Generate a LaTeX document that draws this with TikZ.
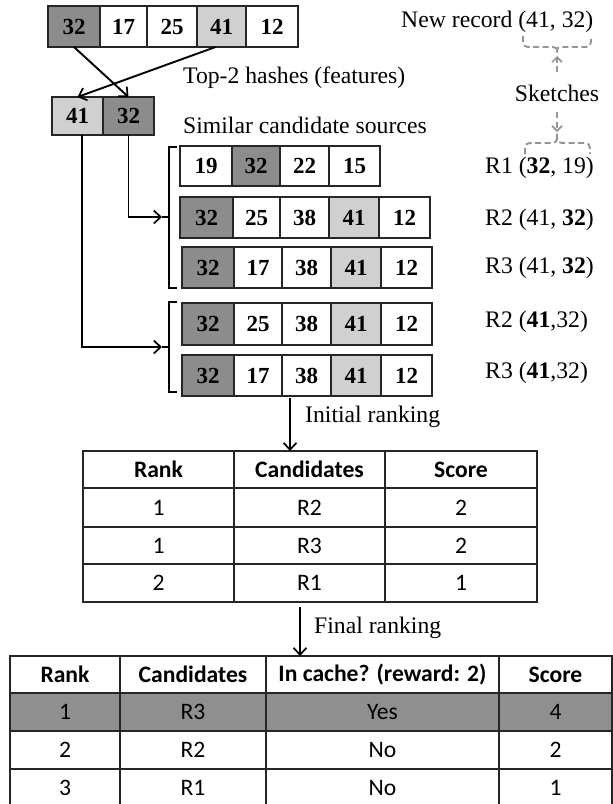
\documentclass[tikz,border=0pt]{standalone}
\usepackage{fontspec}
\setmainfont{Liberation Serif}
\newfontfamily\calib{Carlito}
\usetikzlibrary{arrows.meta}
\definecolor{dk}{HTML}{8C8C8C}
\definecolor{lt}{HTML}{D0D0D0}
\definecolor{hl}{HTML}{8F8F8F}
\definecolor{dg}{HTML}{959595}
\newcommand\bx[7]{\node[#6,minimum width={#3-#2},minimum height={#5-#4}] (#1) at ({(#2+#3)/2},{(#4+#5)/2}) {#7};}
\tikzset{
  cell/.style={draw=black!85,line width=1.3pt,inner sep=0pt,outer sep=0pt,font=\fontsize{23}{25}\selectfont\bfseries},
  dcell/.style={cell,fill=dk},
  lcell/.style={cell,fill=lt},
  wcell/.style={cell,fill=white},
  tcell/.style={draw=black!85,line width=1.1pt,inner sep=0pt,outer sep=0pt,font=\calib\fontsize{23.6}{26}\selectfont},
  thcell/.style={tcell,font=\calib\fontsize{23.6}{26}\selectfont\bfseries},
  hcell/.style={tcell,fill=hl},
  lbl/.style={inner sep=0pt,font=\fontsize{23.7}{26}\selectfont},
  arr/.style={line width=1.9pt,-{Straight Barb[length=7pt,width=13pt,line width=1.7pt]}},
  ln/.style={line width=1.9pt},
  dsh/.style={draw=dg,line width=1.9pt,dash pattern=on 6pt off 3.5pt},
  darr/.style={dsh,-{Straight Barb[length=5pt,width=10pt,line width=1.6pt]}}
}
\begin{document}
\begin{tikzpicture}[x=1pt,y=-1pt]
\clip (0,0) rectangle (613,804);
\fill[white] (0,0) rectangle (613,804);
% top record
\bx{t1}{48}{100}{6}{47}{dcell}{32}
\bx{t2}{100}{147}{6}{47}{wcell}{17}
\bx{t3}{147}{197}{6}{47}{wcell}{25}
\bx{t4}{197}{246}{6}{47}{lcell}{41}
\bx{t5}{246}{298}{6}{47}{wcell}{12}
% top-2 box
\bx{s1}{52}{103}{97}{135}{lcell}{41}
\bx{s2}{103}{154}{97}{135}{dcell}{32}
\draw[arr] (t1.south) -- (s2.north);
\draw[arr] ([xshift=-6pt]t4.south) -- (s1.north);
\node[lbl,anchor=west] (lt2) at (183,78) {Top-2 hashes (features)};
\node[lbl,anchor=west] (lsim) at (183,125) {Similar candidate sources};
% R1
\bx{a1}{180}{232}{146}{186}{wcell}{19}
\bx{a2}{232}{280}{146}{186}{dcell}{32}
\bx{a3}{280}{329}{146}{186}{wcell}{22}
\bx{a4}{329}{380}{146}{186}{wcell}{15}
% R2a
\bx{b1}{180}{233}{197}{238}{dcell}{32}
\bx{b2}{233}{280}{197}{238}{wcell}{25}
\bx{b3}{280}{329}{197}{238}{wcell}{38}
\bx{b4}{329}{379}{197}{238}{lcell}{41}
\bx{b5}{379}{430}{197}{238}{wcell}{12}
% R3a
\bx{c1}{182}{234}{247}{288}{dcell}{32}
\bx{c2}{234}{282}{247}{288}{wcell}{17}
\bx{c3}{282}{331}{247}{288}{wcell}{38}
\bx{c4}{331}{381}{247}{288}{lcell}{41}
\bx{c5}{381}{432}{247}{288}{wcell}{12}
% R2b
\bx{d1}{182}{234}{303}{345}{dcell}{32}
\bx{d2}{234}{282}{303}{345}{wcell}{25}
\bx{d3}{282}{331}{303}{345}{wcell}{38}
\bx{d4}{331}{381}{303}{345}{lcell}{41}
\bx{d5}{381}{432}{303}{345}{wcell}{12}
% R3b
\bx{e1}{182}{234}{355}{396}{dcell}{32}
\bx{e2}{234}{282}{355}{396}{wcell}{17}
\bx{e3}{282}{331}{355}{396}{wcell}{38}
\bx{e4}{331}{381}{355}{396}{lcell}{41}
\bx{e5}{381}{432}{355}{396}{wcell}{12}
% brackets
\draw[ln] (177,147) -- (169,147) -- (169,288) -- (177,288);
\draw[ln] (177,302) -- (169,302) -- (169,392) -- (177,392);
\coordinate (m1) at (169,217);
\coordinate (m2) at (169,347);
\coordinate (p1) at (162,217);
\coordinate (p2) at (162,347);
\draw[arr] (s2.south) |- (p1);
\draw[ln] (p1) -- (m1);
\draw[arr] ([xshift=4.5pt]s1.south) |- (p2);
\draw[ln] (p2) -- (m2);
% right labels
\node[lbl,anchor=west] (nr) at (401,22) {New record (41, 32)};
\node[lbl] (sk) at (557,93) {Sketches};
\node[lbl,anchor=west] (l1) at (485,168) {R1 (\textbf{32}, 19)};
\node[lbl,anchor=west] (l2) at (485,220) {R2 (41, \textbf{32})};
\node[lbl,anchor=west] (l3) at (485,268) {R3 (41, \textbf{32})};
\node[lbl,anchor=west] (l4) at (485,322) {R2 (\textbf{41},32)};
\node[lbl,anchor=west] (l5) at (485,373) {R3 (\textbf{41},32)};
\coordinate (br1) at (557,53);
\coordinate (br2) at (557,134);
\draw[dsh] (523,36) .. controls (523,47) .. (533,47) -- (547,47) .. controls (557,47) .. (br1) .. controls (557,47) .. (567,47) -- (581,47) .. controls (591,47) .. (591,36);
\draw[dsh] (525,154) .. controls (525,143) .. (535,143) -- (547,143) .. controls (557,143) .. (br2) .. controls (557,143) .. (567,143) -- (580,143) .. controls (590,143) .. (590,154);
\draw[darr] (557,72) -- (557,56);
\draw[darr] (557,112) -- (557,132);
% table 1
\bx{h1}{83}{234}{451}{488}{thcell}{Rank}
\bx{h2}{234}{385}{451}{488}{thcell}{Candidates}
\bx{h3}{385}{537}{451}{488}{thcell}{Score}
\bx{u11}{83}{234}{488}{527}{tcell}{1}
\bx{u12}{234}{385}{488}{527}{tcell}{R2}
\bx{u13}{385}{537}{488}{527}{tcell}{2}
\bx{u21}{83}{234}{527}{564}{tcell}{1}
\bx{u22}{234}{385}{527}{564}{tcell}{R3}
\bx{u23}{385}{537}{527}{564}{tcell}{2}
\bx{u31}{83}{234}{564}{602}{tcell}{2}
\bx{u32}{234}{385}{564}{602}{tcell}{R1}
\bx{u33}{385}{537}{564}{602}{tcell}{1}
\coordinate (ia) at (290,398);
\coordinate (ib) at (290,451);
\draw[arr] (ia) -- (ib);
\node[lbl,anchor=west] (ir) at (305,417) {Initial ranking};
% table 2
\bx{g1}{10}{120}{656}{693}{thcell}{Rank}
\bx{g2}{120}{266}{656}{693}{thcell}{Candidates}
\bx{g3}{266}{499}{656}{693}{thcell}{In cache? (reward: 2)}
\bx{g4}{499}{612}{656}{693}{thcell}{Score}
\bx{v11}{10}{120}{693}{731}{hcell}{1}
\bx{v12}{120}{266}{693}{731}{hcell}{R3}
\bx{v13}{266}{499}{693}{731}{hcell}{Yes}
\bx{v14}{499}{612}{693}{731}{hcell}{4}
\bx{v21}{10}{120}{731}{769}{tcell}{2}
\bx{v22}{120}{266}{731}{769}{tcell}{R2}
\bx{v23}{266}{499}{731}{769}{tcell}{No}
\bx{v24}{499}{612}{731}{769}{tcell}{2}
\bx{v31}{10}{120}{769}{807}{tcell}{3}
\bx{v32}{120}{266}{769}{807}{tcell}{R1}
\bx{v33}{266}{499}{769}{807}{tcell}{No}
\bx{v34}{499}{612}{769}{807}{tcell}{1}
\coordinate (fa) at (300,607);
\draw[arr] (fa) -- (g3.north -| fa);
\node[lbl,anchor=west] (fr) at (314,628) {Final ranking};
\end{tikzpicture}
\end{document}
